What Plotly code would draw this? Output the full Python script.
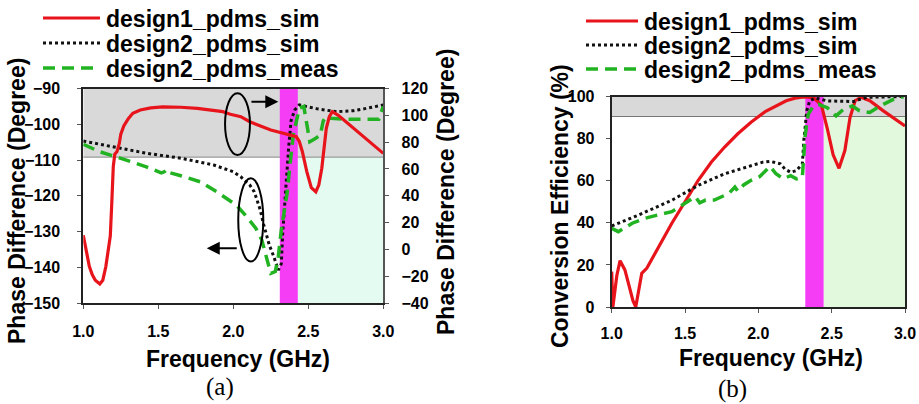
import plotly.graph_objects as go

# ---------------- data: panel (a) phase difference ----------------
freq_a_d1_sim = [1.0, 1.02, 1.04, 1.06, 1.08, 1.11, 1.13, 1.15, 1.165, 1.18, 1.19, 1.2, 1.21, 1.225,
                 1.24, 1.25, 1.27, 1.3, 1.33, 1.38, 1.45, 1.53, 1.65, 1.76, 1.93, 1.98, 2.05, 2.11,
                 2.25, 2.36, 2.42, 2.44, 2.46, 2.49, 2.52, 2.55, 2.57, 2.59, 2.62, 2.64, 2.66, 2.7,
                 2.75, 2.86, 2.97, 3.0]
phase_d1_sim = [10.5, -2, -12.6, -19, -23, -25.8, -23, -13, -2, 10, 35, 62, 71, 73,
                79, 86, 92, 97.5, 101.5, 104, 105.6, 106.3, 106, 105.2, 102.7, 100.8, 99, 95.2,
                89, 85.8, 84, 80.5, 73, 58, 46, 43, 48, 60.5, 90.3, 99, 102.7, 100,
                95.2, 85.3, 74.1, 71.6]

freq_a_d2_sim = [1.0, 1.2, 1.42, 1.65, 1.87, 2.0, 2.05, 2.11, 2.14, 2.18, 2.2, 2.24, 2.27, 2.3,
                 2.32, 2.33, 2.345, 2.36, 2.37, 2.385, 2.41, 2.44, 2.5, 2.56, 2.69, 2.8, 2.87,
                 2.95, 3.0]
phase_d2_sim = [-104.7, -106.3, -108.1, -109.5, -111.4, -113.3, -114.7, -117, -118.9, -124, -127.7,
                -133.8, -137, -140.8, -139, -130, -120, -112, -106, -99, -96, -94.6, -95.2, -95.7,
                -96.5, -96.2, -95.7, -95.0, -94.6]

freq_a_d2_meas = [1.0, 1.11, 1.24, 1.42, 1.52, 1.54, 1.56, 1.58, 1.65, 1.78, 1.89, 2.02, 2.09, 2.15,
                  2.19, 2.22, 2.25, 2.28, 2.3, 2.32, 2.35, 2.36, 2.38, 2.4, 2.42, 2.44, 2.47, 2.49,
                  2.51, 2.55, 2.58, 2.6, 2.62, 2.65, 2.75, 2.9, 2.97, 3.0]
phase_d2_meas = [-105.6, -107.7, -109.4, -111.9, -113.6, -113.3, -112.6, -113.6, -114.4, -116.1,
                 -118.9, -122.6, -125.9, -129.1, -132.4, -137, -141.7, -141.2, -137, -129.6, -121.2,
                 -118.9, -110.5, -103, -99.3, -95.5, -95, -100.2, -104.9, -103.9, -103, -99, -97.8,
                 -98.3, -98.6, -98.6, -98.6, -95]

# ---------------- data: panel (b) conversion efficiency ----------------
freq_b_d1_sim = [1.0, 1.008, 1.035, 1.057, 1.09, 1.125, 1.145, 1.164, 1.185, 1.205, 1.24, 1.295,
                 1.41, 1.5, 1.59, 1.68, 1.77, 1.86, 1.95, 2.05, 2.1, 2.19, 2.25, 2.31, 2.375, 2.43,
                 2.47, 2.51, 2.55, 2.59, 2.625, 2.66, 2.7, 2.76, 2.85, 2.94, 3.0]
eff_d1_sim = [16.8, 0, 15, 22, 17.6, 8.2, 3, 0, 9, 16, 18.5, 25.6,
              39.8, 50, 60.2, 68.9, 76, 82.3, 87.8, 93, 94.9, 98, 99.2, 99.8, 99.5, 95.9,
              84.8, 72.3, 65.9, 74.3, 90, 98, 99.6, 98, 93.3, 88.7, 86]

freq_b_d2_sim = [1.0, 1.18, 1.41, 1.59, 1.77, 1.95, 2.03, 2.08, 2.15, 2.18, 2.22, 2.26, 2.3, 2.31,
                 2.32, 2.33, 2.35, 2.39, 2.47, 2.65, 2.69, 2.74, 2.85, 3.0]
eff_d2_sim = [38.5, 43.6, 50.7, 57.8, 63.3, 67.3, 68.8, 69.2, 68, 65.6, 64, 64.8, 68, 79,
              86.9, 93.2, 97.9, 99.3, 97.9, 97.6, 98.6, 99.6, 99.8, 100]

freq_b_d2_meas = [1.0, 1.045, 1.14, 1.23, 1.32, 1.41, 1.5, 1.57, 1.6, 1.64, 1.7, 1.8, 1.84, 1.86,
                  1.9, 1.95, 2.01, 2.05, 2.08, 2.12, 2.17, 2.22, 2.26, 2.3, 2.31, 2.32, 2.34, 2.375,
                  2.41, 2.47, 2.53, 2.58, 2.64, 2.69, 2.76, 2.83, 2.92, 2.99]
eff_d2_meas = [37.4, 35.8, 39.8, 42.2, 43.8, 45.3, 49.3, 52.4, 49.5, 50.8, 50.8, 54, 57, 55,
               58, 60.2, 62, 64.9, 66.8, 63.3, 60.9, 62.4, 60.9, 61.6, 71, 82, 91.5, 95.5,
               96.3, 94.7, 90.8, 93.9, 95.5, 93.2, 92.4, 95.5, 98.6, 100]

series_names = ["design1_pdms_sim", "design2_pdms_sim", "design2_pdms_meas"]

# ---------------- styling ----------------
W, H = 919, 404
RED = "#e8141c"
BLACK = "#111111"
GREEN = "#22b322"
MAGENTA = "#f53df5"
GRAY = "#d9d9d9"
MINT_A = "#e3fbf1"
MINT_B = "#e3f9de"
FONT = "Liberation Sans, Arial, sans-serif"
styles = [dict(color=RED, width=3.2, dash="solid"),
          dict(color=BLACK, width=3, dash="dot"),
          dict(color=GREEN, width=3.5, dash="12px,7px")]


def px_x(p):
    return p / W


def px_y(p):
    return 1 - p / H


fig = go.Figure()

# panel (a)
fig.add_trace(go.Scatter(x=freq_a_d1_sim, y=phase_d1_sim, mode="lines", line=styles[0],
                         xaxis="x", yaxis="y2", showlegend=False, name=series_names[0]))
fig.add_trace(go.Scatter(x=freq_a_d2_sim, y=phase_d2_sim, mode="lines", line=styles[1],
                         xaxis="x", yaxis="y", showlegend=False, name=series_names[1]))
fig.add_trace(go.Scatter(x=freq_a_d2_meas, y=phase_d2_meas, mode="lines", line=styles[2],
                         xaxis="x", yaxis="y", showlegend=False, name=series_names[2]))
# panel (b)
fig.add_trace(go.Scatter(x=freq_b_d1_sim, y=eff_d1_sim, mode="lines", line=styles[0],
                         xaxis="x2", yaxis="y3", showlegend=False, name=series_names[0]))
fig.add_trace(go.Scatter(x=freq_b_d2_sim, y=eff_d2_sim, mode="lines", line=styles[1],
                         xaxis="x2", yaxis="y3", showlegend=False, name=series_names[1]))
fig.add_trace(go.Scatter(x=freq_b_d2_meas, y=eff_d2_meas, mode="lines", line=styles[2],
                         xaxis="x2", yaxis="y3", showlegend=False, name=series_names[2]))

tickfont = dict(family=FONT, size=16, color="black", weight="bold")
frame = dict(showline=True, linecolor="#222", linewidth=2, mirror=True, showgrid=False,
             zeroline=False, ticks="outside", ticklen=4, tickcolor="#555", tickwidth=1,
             tickfont=tickfont, automargin=False)

fig.update_layout(
    width=W, height=H, margin=dict(l=0, r=0, t=0, b=0, pad=0, autoexpand=False),
    paper_bgcolor="white", plot_bgcolor="white", showlegend=False,
    xaxis=dict(domain=[px_x(83.3), px_x(383.3)], range=[1, 3], dtick=0.5, tickformat=".1f",
               anchor="y", ticklabelstandoff=9, **frame),
    yaxis=dict(domain=[px_y(303), px_y(88.5)], range=[-150, -90], dtick=10, anchor="x",
               ticklabelstandoff=14, **frame),
    yaxis2=dict(range=[-40, 120], dtick=20, overlaying="y", side="right", anchor="x",
                showline=True, linecolor="#555", linewidth=2, showgrid=False, zeroline=False,
                ticks="outside", ticklen=4, tickcolor="#555", tickfont=tickfont,
                ticklabelstandoff=9, automargin=False),
    xaxis2=dict(domain=[px_x(611.7), px_x(905)], range=[1, 3], dtick=0.5, tickformat=".1f",
                anchor="y3", ticklabelstandoff=7, **frame),
    yaxis3=dict(domain=[px_y(307), px_y(96.5)], range=[0, 100], dtick=20, anchor="x2",
                ticklabelstandoff=8, **frame),
)

shapes = []
# panel (a) backgrounds
shapes.append(dict(type="rect", xref="x", yref="y", x0=1, x1=3, y0=-109.2, y1=-90,
                   fillcolor=GRAY, line=dict(width=0), layer="below"))
shapes.append(dict(type="rect", xref="x", yref="y", x0=2.43, x1=3, y0=-150, y1=-109.2,
                   fillcolor=MINT_A, line=dict(width=0), layer="below"))
shapes.append(dict(type="line", xref="x", yref="y", x0=1, x1=3, y0=-109.2, y1=-109.2,
                   line=dict(color="#888", width=1), layer="below"))
shapes.append(dict(type="rect", xref="x", yref="y", x0=2.31, x1=2.43, y0=-150, y1=-90,
                   fillcolor=MAGENTA, line=dict(width=0), layer="below"))
# panel (b) backgrounds
shapes.append(dict(type="rect", xref="x2", yref="y3", x0=1, x1=3, y0=90.5, y1=100,
                   fillcolor=GRAY, line=dict(width=0), layer="below"))
shapes.append(dict(type="rect", xref="x2", yref="y3", x0=2.445, x1=3, y0=0, y1=90.5,
                   fillcolor=MINT_B, line=dict(width=0), layer="below"))
shapes.append(dict(type="line", xref="x2", yref="y3", x0=1, x1=3, y0=90.5, y1=90.5,
                   line=dict(color="#777", width=1), layer="below"))
shapes.append(dict(type="rect", xref="x2", yref="y3", x0=2.32, x1=2.445, y0=0, y1=100,
                   fillcolor=MAGENTA, line=dict(width=0), layer="below"))
# ellipses marking which axis the curves belong to
shapes.append(dict(type="circle", xref="x", yref="y", x0=1.945, x1=2.111, y0=-108.6, y1=-91.3,
                   line=dict(color="black", width=2)))
shapes.append(dict(type="circle", xref="x", yref="y", x0=2.033, x1=2.2, y0=-138.4, y1=-115.1,
                   line=dict(color="black", width=2)))

annotations = []
# arrows
annotations.append(dict(x=2.3, y=-93.7, xref="x", yref="y", ax=2.111, ay=-93.7, axref="x",
                        ayref="y", showarrow=True, arrowhead=2, arrowsize=1.3, arrowwidth=2,
                        arrowcolor="black", text=""))
annotations.append(dict(x=1.823, y=-134.7, xref="x", yref="y", ax=2.033, ay=-134.7, axref="x",
                        ayref="y", showarrow=True, arrowhead=2, arrowsize=1.3, arrowwidth=2,
                        arrowcolor="black", text=""))

titlefont = dict(family=FONT, size=23, color="black", weight="bold")


def add_text(text, xp, yp, angle=0, font=titlefont, xanchor="center"):
    annotations.append(dict(text=text, x=px_x(xp), y=px_y(yp), xref="paper", yref="paper",
                            showarrow=False, textangle=angle, font=font,
                            xanchor=xanchor, yanchor="middle"))


add_text("Phase Difference (Degree)", 17, 201, angle=-90)
add_text("Phase Difference (Degree)", 446, 192, angle=-90)
add_text("Frequency (GHz)", 238, 359)
add_text("Conversion Efficiency (%)", 560, 206, angle=-90)
add_text("Frequency (GHz)", 771, 358)
serif = dict(family="Liberation Serif, Times New Roman, serif", size=25, color="black")
add_text("(a)", 220, 387, font=serif)
add_text("(b)", 732, 389, font=serif)

# legends (sample line + label) for both panels
legend_rows_a = [18, 43, 68]
legend_rows_b = [21, 45, 69]
for i, name in enumerate(series_names):
    st = styles[i]
    for (x0, x1, xt, rows) in [(43, 100, 104, legend_rows_a), (586, 638, 642, legend_rows_b)]:
        shapes.append(dict(type="line", xref="paper", yref="paper", x0=px_x(x0), x1=px_x(x1),
                           y0=px_y(rows[i]), y1=px_y(rows[i]),
                           line=dict(color=st["color"], width=st["width"], dash=st["dash"])))
        add_text(name, xt, rows[i] + 1, xanchor="left")

fig.update_layout(shapes=shapes, annotations=annotations)
fig.write_html("out.html",
               post_script="document.body.style.margin='0';document.body.style.overflow='hidden';")
